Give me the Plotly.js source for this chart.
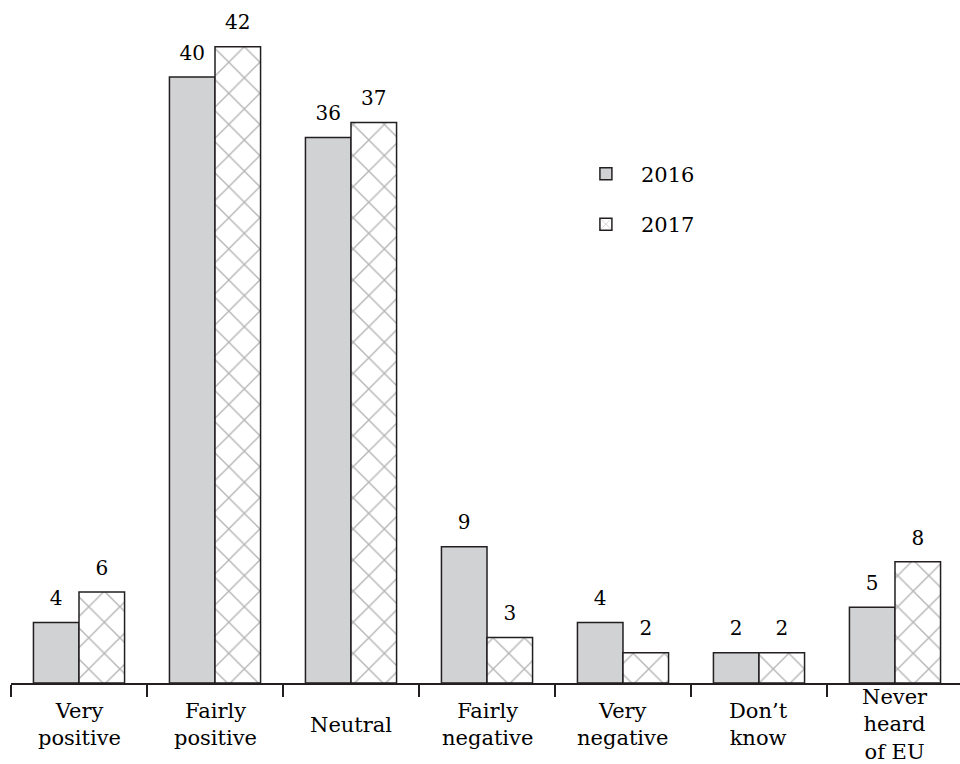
<!DOCTYPE html>
<html>
<head>
<meta charset="utf-8">
<script src="https://cdn.plot.ly/plotly-3.0.1.min.js"></script>
<style>html,body{margin:0;padding:0;background:#fff;}#chart{width:960px;height:764px;}</style>
</head>
<body>
<div id="chart"></div>
<script>
var categories = ["Very positive", "Fairly positive", "Neutral", "Fairly negative", "Very negative", "Don't know", "Never heard of EU"];
var categoryLabels = ["Very<br>positive", "Fairly<br>positive", "Neutral", "Fairly<br>negative", "Very<br>negative", "Don’t<br>know", "Never<br>heard<br>of EU"];
var series2016 = [4, 40, 36, 9, 4, 2, 5];
var series2017 = [6, 42, 37, 3, 2, 2, 8];
var seriesNames = ["2016", "2017"];

var FONT = "DejaVu Serif, Liberation Serif, serif";

var trace2016 = {
  type: "bar", name: seriesNames[0], x: categories, y: series2016,
  marker: {color: "#d1d2d4", line: {color: "#231f20", width: 1.5}},
  legendgroup: "a", hoverinfo: "x+y"
};
var trace2017 = {
  type: "bar", name: seriesNames[1], x: categories, y: series2017,
  marker: {color: "#ffffff", line: {color: "#231f20", width: 1.5},
    pattern: {shape: "x", fgcolor: "#b4b4b4", bgcolor: "#ffffff", size: 22, solidity: 0.12}},
  legendgroup: "b", hoverinfo: "x+y"
};

function labelTrace(vals) {
  return {
    type: "scatter", mode: "markers+text", x: categories, y: vals,
    text: vals.map(String), textposition: "top center", cliponaxis: false,
    textfont: {family: FONT, size: 20, color: "#000"},
    marker: {size: 18, color: "rgba(0,0,0,0)"},
    showlegend: false, hoverinfo: "skip"
  };
}

var annotations = categories.map(function (c, i) {
  return {x: c, xref: "x", y: -0.061, yref: "paper", yanchor: "middle", xanchor: "center",
    text: categoryLabels[i], showarrow: false, borderpad: 0,
    font: {family: FONT, size: 21, color: "#000"}};
});

var layout = {
  width: 960, height: 764,
  margin: {l: 11, r: 0, t: 0, b: 81},
  paper_bgcolor: "#fff", plot_bgcolor: "#fff",
  barmode: "group", bargap: 0.33, bargroupgap: 0,
  scattermode: "group", scattergap: 0.33,
  font: {family: FONT, size: 20, color: "#000"},
  xaxis: {type: "category", range: [-0.5, 6.478], showline: true, linecolor: "#231f20", linewidth: 1.5,
    ticks: "outside", tickson: "boundaries", ticklen: 12, tickcolor: "#231f20", tickwidth: 1.2,
    showticklabels: false, showgrid: false, zeroline: false, fixedrange: true},
  yaxis: {range: [0, 45.08], visible: false, fixedrange: true},
  showlegend: true,
  legend: {x: 0.59, y: 0.775, xanchor: "left", yanchor: "top", traceorder: "grouped", tracegroupgap: 20,
    font: {family: FONT, size: 21, color: "#000"}, itemwidth: 60, bgcolor: "rgba(0,0,0,0)"},
  annotations: annotations
};

Plotly.newPlot("chart", [trace2016, trace2017, labelTrace(series2016), labelTrace(series2017)], layout,
  {displayModeBar: false, staticPlot: true});
</script>
</body>
</html>
